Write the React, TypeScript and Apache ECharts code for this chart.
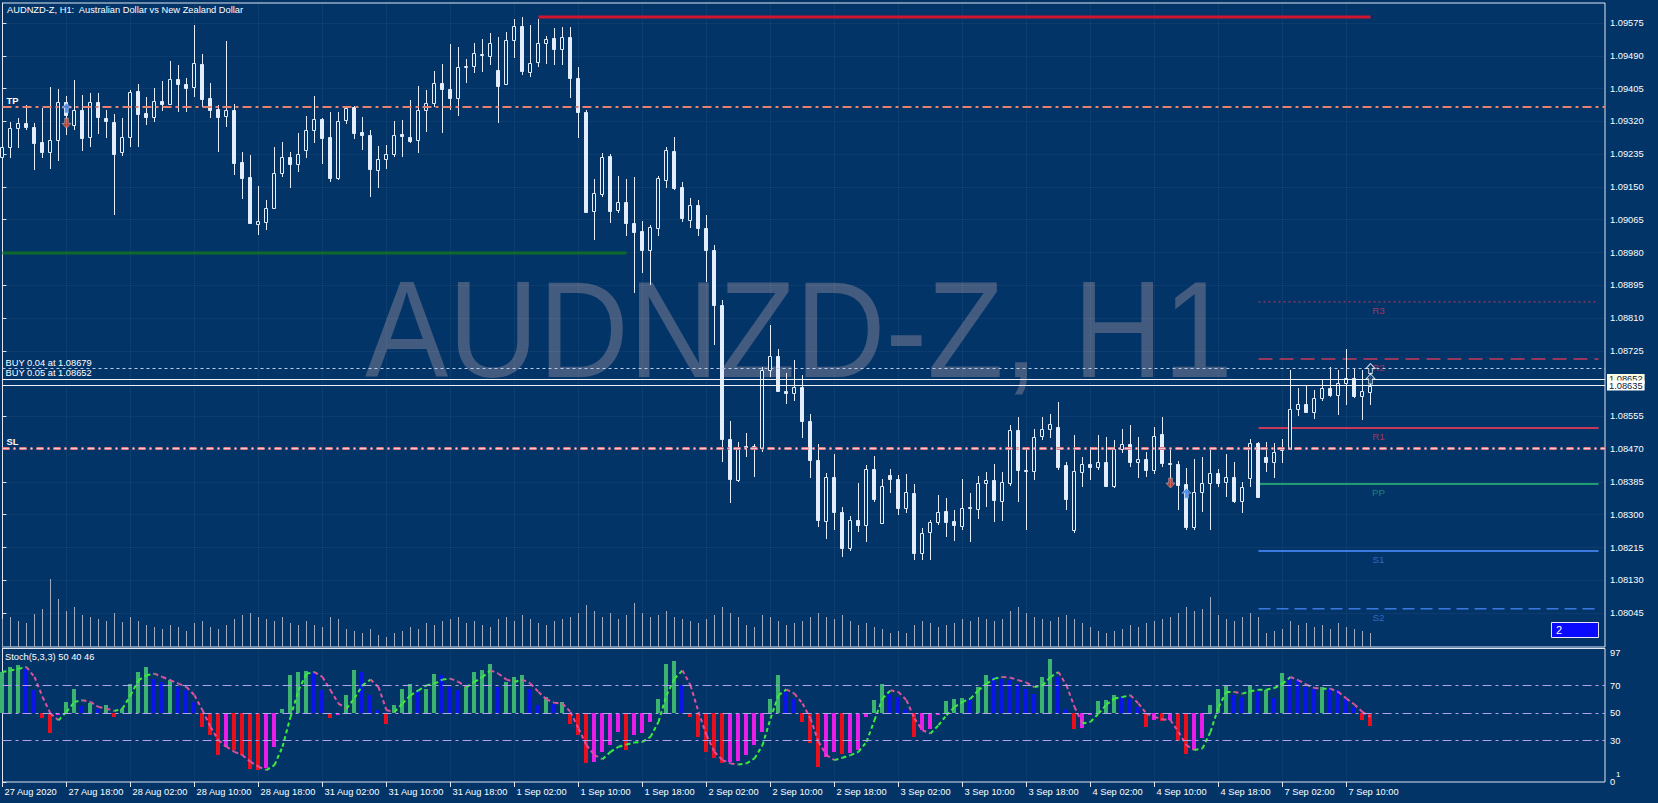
import { useEffect, useRef } from 'react';
import * as echarts from 'echarts';

// ---------- DATA ----------
const timeLabels = [
  '27 Aug 2020', '27 Aug 18:00', '28 Aug 02:00', '28 Aug 10:00', '28 Aug 18:00', '31 Aug 02:00',
  '31 Aug 10:00', '31 Aug 18:00', '1 Sep 02:00', '1 Sep 10:00', '1 Sep 18:00', '2 Sep 02:00',
  '2 Sep 10:00', '2 Sep 18:00', '3 Sep 02:00', '3 Sep 10:00', '3 Sep 18:00', '4 Sep 02:00',
  '4 Sep 10:00', '4 Sep 18:00', '7 Sep 02:00', '7 Sep 10:00',
];

const priceTicks = [
  1.08045, 1.0813, 1.08215, 1.083, 1.08385, 1.0847, 1.08555, 1.08725, 1.0881, 1.08895,
  1.0898, 1.09065, 1.0915, 1.09235, 1.0932, 1.09405, 1.0949, 1.09575,
];

const stochTicks = [0, 30, 50, 70, 97];
const stochLevels = [70, 50, 30];

// [open, high, low, close] for each H1 bar
const ohlc: number[][] = [
  [1.09228, 1.09259, 1.09225, 1.09254], [1.09254, 1.09318, 1.09224, 1.09302], [1.09302, 1.09328, 1.0925, 1.09315],
  [1.09315, 1.09362, 1.09298, 1.09305], [1.09305, 1.09315, 1.09194, 1.09265], [1.09266, 1.09354, 1.09224, 1.09241],
  [1.0924, 1.0941, 1.09197, 1.09271], [1.09271, 1.09404, 1.09218, 1.09369], [1.09369, 1.09386, 1.09285, 1.09336],
  [1.09311, 1.09427, 1.09298, 1.09349], [1.0935, 1.09388, 1.09243, 1.09276], [1.09279, 1.09393, 1.09254, 1.0937],
  [1.0937, 1.09393, 1.09287, 1.09331], [1.09328, 1.0935, 1.09278, 1.09322], [1.09318, 1.09339, 1.09077, 1.09235],
  [1.0924, 1.09328, 1.09231, 1.09279], [1.09279, 1.09401, 1.09254, 1.09395], [1.09399, 1.09417, 1.09254, 1.0934],
  [1.09341, 1.09384, 1.09311, 1.09331], [1.09331, 1.09406, 1.09319, 1.09373], [1.09373, 1.09425, 1.09348, 1.09366],
  [1.09366, 1.09477, 1.09363, 1.09429], [1.09429, 1.09466, 1.09345, 1.09416], [1.09417, 1.09433, 1.09345, 1.09407],
  [1.09408, 1.0957, 1.09384, 1.09471], [1.09469, 1.09496, 1.09358, 1.09378], [1.0938, 1.09419, 1.09328, 1.0935],
  [1.09351, 1.09362, 1.09241, 1.09331], [1.09334, 1.09529, 1.09305, 1.09349], [1.09349, 1.09364, 1.09181, 1.09213],
  [1.09215, 1.09241, 1.09119, 1.09174], [1.09175, 1.09233, 1.09053, 1.09056], [1.09053, 1.09153, 1.09025, 1.09061],
  [1.0906, 1.09115, 1.09038, 1.09095], [1.09095, 1.09254, 1.09092, 1.09185], [1.09185, 1.09267, 1.09177, 1.09227],
  [1.09227, 1.09241, 1.09146, 1.09209], [1.09209, 1.09291, 1.0919, 1.09235], [1.09246, 1.09334, 1.09226, 1.09297],
  [1.09297, 1.09386, 1.09263, 1.09325], [1.09325, 1.09329, 1.09209, 1.09276], [1.09279, 1.09345, 1.09164, 1.09173],
  [1.09173, 1.09345, 1.09168, 1.09321], [1.09324, 1.0936, 1.09313, 1.09355], [1.09357, 1.0936, 1.09274, 1.0929],
  [1.09292, 1.09331, 1.09246, 1.09285], [1.09285, 1.09298, 1.09124, 1.09197], [1.09194, 1.09256, 1.09147, 1.09223],
  [1.09223, 1.09259, 1.09197, 1.09235], [1.09235, 1.09321, 1.09228, 1.09285], [1.09287, 1.09324, 1.09228, 1.09282],
  [1.0928, 1.09376, 1.09264, 1.09269], [1.09272, 1.09412, 1.09238, 1.0935], [1.0935, 1.09401, 1.09292, 1.09368],
  [1.09368, 1.09451, 1.09357, 1.09419], [1.09419, 1.09469, 1.0929, 1.09404], [1.09404, 1.09521, 1.0935, 1.09381],
  [1.09381, 1.09513, 1.09334, 1.09461], [1.09461, 1.09482, 1.09419, 1.09464], [1.09464, 1.09523, 1.09445, 1.09497],
  [1.09492, 1.09534, 1.09448, 1.09495], [1.0949, 1.09549, 1.09466, 1.09523], [1.09453, 1.09539, 1.09316, 1.09412],
  [1.09417, 1.09552, 1.09414, 1.09531], [1.09531, 1.09586, 1.09484, 1.09567], [1.09567, 1.09591, 1.0944, 1.09451],
  [1.09448, 1.0957, 1.09435, 1.09471], [1.09474, 1.09586, 1.09461, 1.09523], [1.09523, 1.09541, 1.09469, 1.09534],
  [1.09536, 1.09562, 1.09466, 1.09508], [1.09508, 1.09565, 1.09466, 1.09539], [1.09539, 1.09565, 1.09381, 1.09432],
  [1.09432, 1.09461, 1.09277, 1.09344], [1.09344, 1.0935, 1.09082, 1.09085], [1.09088, 1.09171, 1.09012, 1.09134],
  [1.09131, 1.09238, 1.09124, 1.09228], [1.0923, 1.09235, 1.09056, 1.09088], [1.0909, 1.09178, 1.09082, 1.09111],
  [1.09111, 1.09171, 1.09023, 1.09057], [1.09057, 1.09176, 1.08875, 1.09033], [1.09036, 1.09062, 1.08927, 1.08987],
  [1.08987, 1.09051, 1.08896, 1.09046], [1.09043, 1.09178, 1.09023, 1.09173], [1.09168, 1.09254, 1.09147, 1.09246],
  [1.09243, 1.0928, 1.09142, 1.09147], [1.0915, 1.09163, 1.09059, 1.09069], [1.09064, 1.09121, 1.09043, 1.09103],
  [1.09103, 1.09116, 1.09023, 1.09044], [1.09044, 1.09077, 1.08904, 1.08987], [1.08987, 1.08999, 1.0874, 1.08844],
  [1.08844, 1.08857, 1.08437, 1.08496], [1.08496, 1.08543, 1.0833, 1.08393], [1.0839, 1.08489, 1.08385, 1.08476],
  [1.08476, 1.08512, 1.0845, 1.08478], [1.08478, 1.08483, 1.08398, 1.08476], [1.08473, 1.08683, 1.08463, 1.08675],
  [1.08675, 1.08792, 1.08657, 1.08712], [1.08712, 1.0873, 1.08618, 1.08621], [1.08621, 1.08668, 1.08587, 1.08616],
  [1.08616, 1.08701, 1.08595, 1.08631], [1.08631, 1.08662, 1.08499, 1.08543], [1.08543, 1.08561, 1.08395, 1.08442],
  [1.08442, 1.08483, 1.08268, 1.08286], [1.08284, 1.08408, 1.08237, 1.08398], [1.08398, 1.08457, 1.0826, 1.08307],
  [1.08307, 1.0832, 1.0819, 1.08214], [1.08214, 1.08297, 1.08206, 1.08286], [1.08286, 1.08382, 1.08255, 1.08273],
  [1.08273, 1.08429, 1.08229, 1.08419], [1.08419, 1.08452, 1.08333, 1.08341], [1.08278, 1.08393, 1.08276, 1.08375],
  [1.08403, 1.08419, 1.08356, 1.08393], [1.08393, 1.08403, 1.08299, 1.08317], [1.08317, 1.08406, 1.08304, 1.08359],
  [1.08356, 1.0838, 1.08183, 1.08201], [1.08201, 1.08266, 1.08183, 1.08253], [1.08255, 1.08286, 1.08183, 1.08281],
  [1.08281, 1.08351, 1.08273, 1.08307], [1.0831, 1.08343, 1.08242, 1.08281], [1.08284, 1.08312, 1.08232, 1.08273],
  [1.08271, 1.08393, 1.0826, 1.08317], [1.08317, 1.08356, 1.08229, 1.0832], [1.08315, 1.084, 1.08289, 1.08382],
  [1.08382, 1.08411, 1.0832, 1.0839], [1.0839, 1.08432, 1.08281, 1.08338], [1.08336, 1.08411, 1.08284, 1.08385],
  [1.08382, 1.08533, 1.08375, 1.0852], [1.0852, 1.08553, 1.08333, 1.08416], [1.08416, 1.08473, 1.0826, 1.08413],
  [1.08413, 1.08522, 1.0839, 1.08502], [1.08504, 1.08553, 1.08494, 1.08522], [1.08522, 1.08561, 1.08499, 1.08535],
  [1.08527, 1.08592, 1.08416, 1.08424], [1.08429, 1.08437, 1.08312, 1.08341], [1.0826, 1.08507, 1.08253, 1.08413],
  [1.08411, 1.0845, 1.08372, 1.08432], [1.08432, 1.08476, 1.0839, 1.08424], [1.08424, 1.08507, 1.08416, 1.08437],
  [1.08437, 1.08502, 1.08372, 1.08375], [1.08375, 1.08494, 1.08369, 1.0847], [1.0847, 1.08522, 1.0846, 1.08483],
  [1.08483, 1.08533, 1.08424, 1.08437], [1.08437, 1.08502, 1.08395, 1.08445], [1.08445, 1.08463, 1.08398, 1.08416],
  [1.08416, 1.08527, 1.08406, 1.08504], [1.08509, 1.08553, 1.08424, 1.08434], [1.08434, 1.08468, 1.08372, 1.08432],
  [1.08432, 1.08439, 1.08312, 1.08377], [1.0838, 1.08421, 1.0826, 1.08268], [1.08268, 1.08445, 1.0826, 1.08359],
  [1.08359, 1.0845, 1.08307, 1.08382], [1.08382, 1.08468, 1.0826, 1.08408], [1.08408, 1.08419, 1.08372, 1.08382],
  [1.08385, 1.08458, 1.08346, 1.08398], [1.08398, 1.08437, 1.0833, 1.08336], [1.08336, 1.08385, 1.08304, 1.08372],
  [1.08395, 1.08496, 1.08372, 1.08486], [1.08486, 1.08489, 1.08343, 1.08346], [1.0845, 1.08489, 1.08411, 1.08437],
  [1.08437, 1.08486, 1.08395, 1.08463], [1.08468, 1.08496, 1.08434, 1.08473], [1.0847, 1.08675, 1.08468, 1.08574],
  [1.08574, 1.08629, 1.08556, 1.08587], [1.08587, 1.08636, 1.08564, 1.08566], [1.08566, 1.08624, 1.08548, 1.08603],
  [1.08603, 1.08649, 1.08595, 1.08629], [1.08629, 1.08683, 1.08605, 1.08611], [1.08611, 1.08675, 1.08558, 1.08642],
  [1.08642, 1.0873, 1.08585, 1.08655], [1.08655, 1.08678, 1.08603, 1.08608], [1.08608, 1.08675, 1.08546, 1.08621],
  [1.08618, 1.0867, 1.08585, 1.08635],
];

const volumes = [
  448, 480, 416, 384, 528, 608, 1088, 768, 576, 640, 512, 480, 448, 416, 544, 400, 480, 416, 352, 320,
  288, 352, 320, 256, 384, 416, 320, 288, 352, 448, 512, 544, 480, 448, 416, 480, 384, 352, 416, 352,
  320, 480, 448, 288, 256, 224, 288, 192, 160, 224, 256, 320, 288, 384, 352, 416, 448, 480, 384, 416,
  352, 320, 448, 480, 416, 512, 448, 384, 352, 416, 448, 480, 544, 672, 576, 480, 544, 448, 512, 704,
  544, 480, 512, 576, 480, 448, 416, 384, 448, 512, 640, 544, 480, 352, 320, 512, 480, 416, 352, 384,
  416, 480, 544, 480, 448, 512, 416, 352, 384, 320, 288, 224, 256, 224, 352, 416, 384, 320, 352, 384,
  448, 416, 480, 448, 416, 448, 576, 640, 544, 480, 448, 416, 480, 512, 448, 384, 320, 256, 224, 256,
  288, 352, 320, 384, 416, 448, 480, 544, 640, 576, 608, 800, 512, 448, 416, 480, 544, 480, 224, 256,
  288, 416, 352, 384, 320, 352, 288, 384, 320, 288, 256, 224,
];

const stochMain = [
  80, 83.5, 84.7, 82.3, 66.6, 46.8, 35.7, 49, 58.2, 67.8, 55, 57.4, 53, 55.8, 47.3, 53, 71.5, 79.9, 83.5, 75.1,
  72.7, 73.9, 69, 66.6, 58.2, 40, 34, 19.5, 25.6, 23.2, 19.5, 9.5, 8.7, 9.9, 25.6, 53.4, 77.5, 79.9, 80.5, 79.5,
  66.6, 46.8, 49, 63, 81.6, 79.9, 63, 52.1, 42.5, 55.8, 67.8, 71.5, 66.6, 67.8, 78.7, 78, 69, 66.6, 69, 79.9,
  81.1, 85.4, 69, 72.7, 76.3, 77.5, 67.8, 55.8, 61.5, 57, 58.2, 42.5, 34, 13.5, 14.7, 21.9, 26.7, 36.4, 23.2, 34.5,
  35.5, 43.7, 60.6, 85.9, 87.6, 70.2, 47.3, 32.8, 21.9, 17.1, 14, 14.5, 15.5, 19.5, 26.7, 36.4, 60.6, 78, 65.4, 60.6,
  43.7, 28, 11.1, 18.3, 21.5, 20, 21, 23.2, 47, 59.4, 71.4, 64.2, 61.8, 53.3, 33, 37.6, 38.5, 49, 58.7, 60.6,
  61.1, 59.4, 69, 78, 76, 75, 74, 71.4, 67.8, 64.2, 76.3, 89.1, 76.3, 53.3, 38.8, 39.3, 49, 58.7, 59.4, 63.5,
  62, 60.6, 54.5, 40, 45, 44, 45, 29.7, 20, 23.2, 32.1, 55.7, 67.3, 70.7, 63.5, 61.8, 70.7, 65.4, 66.6, 61.1,
  79.4, 76.3, 73.9, 69, 67.8, 69, 68, 66.6, 60.6, 54.5, 44.9, 40.8,
];

const stochSignal = [
  79.9, 81, 82.3, 83.5, 76.3, 61.8, 49.7, 44.9, 50.9, 58.2, 59.4, 58.2, 54.5, 53.3, 51.6, 53.3, 63, 73.9, 77.5, 78.7,
  76.3, 73.9, 71.5, 69, 63, 52.1, 40, 30.4, 25.6, 21.9, 19.5, 14.7, 11.1, 8.7, 12.3, 25.6, 47.3, 66.6, 78.7, 79.9,
  76.3, 66.6, 57, 53.3, 61, 70.2, 74.4, 69, 52.1, 50.9, 57, 63, 66.6, 70.2, 71.5, 74.4, 75.1, 72.7, 69, 72.7,
  76.3, 81.1, 78.7, 74.4, 72.7, 74.4, 71.5, 65.4, 60, 57.5, 57, 50.9, 38.8, 26.7, 19.5, 16.6, 21.9, 25.6, 27.2, 28.7,
  29.2, 32.8, 43.7, 63, 75.1, 81.1, 70.2, 51, 34, 21.9, 15.9, 13.5, 12.8, 13.5, 17.1, 26.7, 46.1, 63, 67.3, 64.2,
  57, 46.1, 29.2, 19.5, 15.9, 17.6, 19.5, 21.9, 29.2, 44.9, 60.6, 66.6, 65.4, 59.4, 46.1, 37.6, 35.2, 41.3, 48.5, 54.5,
  58.2, 60.6, 66.6, 71.4, 75.1, 76.3, 75.8, 73.9, 72.2, 69, 70.2, 76.3, 79.9, 70.2, 54.5, 42.5, 43.7, 49.7, 56.3, 60.6,
  61.8, 63, 57, 49.7, 47.3, 45.6, 44.9, 36.4, 26.7, 23.2, 24.4, 36.4, 54.5, 65.4, 65.4, 64.2, 65.9, 67.1, 67.1, 68.3,
  71.4, 76.3, 73.9, 70.7, 68.3, 67.8, 67.8, 65.4, 60.6, 56.3, 50.9, 47.3,
];

const highLine = [[67, 1.09591], [171, 1.09591]];
const lowLine = [[0, 1.08979], [78, 1.08979]];
const tpPrice = 1.09357;
const slPrice = 1.08473;
const orderLots = [0.04, 0.05];
const orderPrices = [1.08679, 1.08652];
const bidPrice = 1.08635;
const pivotNames = ['R3', 'R2', 'R1', 'PP', 'S1', 'S2'];
const pivotPrices = [1.08852, 1.08704, 1.08525, 1.0838, 1.08206, 1.08056];
const pivotSpan = [157, 199.5];
const pivotLabelAt = 172;
const buyArrows = [[8, 1.09355], [148, 1.08356]];
const closeArrows = [[8, 1.09315], [146, 1.08382]];
const openArrows = [[171, 1.08679], [171, 1.08652]];

// ---------- STYLE ----------
const BG = '#023468';
const FRAME = '#dfe6f0';
const GRIDC = 'rgba(255,255,255,0.09)';
const CANDLE = '#e3edfb';
const FONT = 'Liberation Sans';
const FS = 9.3;
const XMAX = 200.3125;
const UP = 'path://M5,0 L10,5 L7,5 L7,10 L3,10 L3,5 L0,5 Z';
const DOWN = 'path://M3,0 L7,0 L7,5 L10,5 L5,10 L0,5 L3,5 Z';

export default function App() {
  const ref = useRef<HTMLDivElement>(null);
  useEffect(() => {
    if (!ref.current) return;
    const chart = echarts.init(ref.current, null, { renderer: 'svg' });
    const labelIdx = timeLabels.map((_, k) => k * 8);
    const candleData = ohlc.map((d, i) => [i, d[0], d[1], d[2], d[3]]);
    const volData = volumes.map((v, i) => [i, v]);
    const histData = stochMain.map((v, i) => [i, v, i > 0 ? stochMain[i - 1] : v]);
    const sigData = stochSignal.slice(0, -1).map((v, i) => [i, v, stochSignal[i + 1]]);
    const pivotColors = ['#c8385a', '#c8385a', '#c8385a', '#1f9c72', '#3a7ae0', '#3a7ae0'];
    const pivotStyles: any[] = [
      { width: 1, type: [2, 3] },
      { width: 1.5, type: [14, 7] },
      { width: 2, type: 'solid' },
      { width: 2, type: 'solid' },
      { width: 2, type: 'solid' },
      { width: 1.5, type: [12, 6] },
    ];

    const axisText = { color: '#ffffff', fontFamily: FONT, fontSize: FS };

    const option: any = {
      animation: false,
      backgroundColor: BG,
      textStyle: { fontFamily: FONT },
      grid: [
        { left: 2.5, top: 3, width: 1602.5, height: 644, show: true, borderColor: FRAME, borderWidth: 1, backgroundColor: 'transparent' },
        { left: 2.5, top: 648.5, width: 1602.5, height: 133.5, show: true, borderColor: FRAME, borderWidth: 1, backgroundColor: 'transparent' },
      ],
      xAxis: [
        {
          gridIndex: 0, type: 'value', min: 0, max: XMAX,
          axisLine: { show: false },
          axisTick: { show: false, customValues: labelIdx },
          axisLabel: { show: false, customValues: labelIdx },
          splitLine: { show: true, lineStyle: { color: GRIDC, type: 'dotted' } },
        },
        {
          gridIndex: 1, type: 'value', min: 0, max: XMAX, position: 'bottom',
          axisLine: { show: false },
          axisTick: { show: true, length: 5, customValues: labelIdx, lineStyle: { color: FRAME } },
          axisLabel: {
            ...axisText, customValues: labelIdx, align: 'left', margin: 5, padding: [0, 0, 0, 2],
            formatter: (v: number) => timeLabels[Math.round(v / 8)] ?? '',
          },
          splitLine: { show: true, lineStyle: { color: GRIDC, type: 'dotted' } },
        },
      ],
      yAxis: [
        {
          gridIndex: 0, type: 'value', min: 1.07957, max: 1.09627, position: 'right',
          axisLine: { show: true, lineStyle: { color: FRAME } },
          axisTick: { show: true, inside: false, length: 4, customValues: priceTicks, lineStyle: { color: FRAME } },
          axisLabel: { ...axisText, customValues: priceTicks, margin: 5, formatter: (v: number) => v.toFixed(5) },
          splitLine: { show: true, lineStyle: { color: GRIDC, type: 'dotted' } },
        },
        { gridIndex: 0, type: 'value', min: 0, max: 10304, show: false },
        {
          gridIndex: 1, type: 'value', min: 0, max: 97, position: 'right',
          axisLine: { show: true, lineStyle: { color: FRAME } },
          axisTick: { show: true, inside: false, length: 4, customValues: stochTicks, lineStyle: { color: FRAME } },
          axisLabel: { ...axisText, customValues: stochTicks, margin: 5, verticalAlignMaxLabel: 'top' },
          splitLine: { show: false },
        },
      ],
      series: [
        // volumes
        {
          type: 'custom', xAxisIndex: 0, yAxisIndex: 1, z: 1, silent: true,
          data: volData, encode: { x: 0, y: 1 },
          renderItem: (_p: any, api: any) => {
            const i = api.value(0);
            const p0 = api.coord([i, 0]);
            const p1 = api.coord([i, api.value(1)]);
            const x = Math.floor(p0[0]) + 0.5;
            return { type: 'line', shape: { x1: x, y1: p0[1], x2: x, y2: p1[1] }, style: { stroke: '#9eabc0', lineWidth: 1 } };
          },
        },
        // level lines (TP, SL, orders, bid)
        {
          type: 'line', xAxisIndex: 0, yAxisIndex: 0, data: [], z: 2, silent: true,
          markLine: {
            silent: true, symbol: ['none', 'none'], animation: false, precision: 5,
            label: { show: false },
            data: [
              {
                yAxis: tpPrice, lineStyle: { color: '#e8806e', width: 2, type: [9, 4, 3, 4] },
                label: { show: true, position: 'insideStartTop', formatter: 'TP', color: '#ffffff', fontSize: FS, fontWeight: 'bold', distance: [4, 2] },
              },
              {
                yAxis: slPrice, lineStyle: { color: '#e27a80', width: 3, type: [7, 4, 2, 4] },
                label: { show: true, position: 'insideStartTop', formatter: 'SL', color: '#ffffff', fontSize: FS, fontWeight: 'bold', distance: [4, 2] },
              },
              { yAxis: slPrice, lineStyle: { color: '#f0c8d0', width: 1, type: [7, 4, 2, 4] }, label: { show: false } },
              {
                yAxis: orderPrices[0], lineStyle: { color: '#b9cde8', width: 1, type: [3, 3] },
                label: { show: true, position: 'insideStartTop', formatter: `BUY ${orderLots[0].toFixed(2)} at ${orderPrices[0].toFixed(5)}`, color: '#ffffff', fontSize: FS, distance: [3, 1] },
              },
              {
                yAxis: orderPrices[1], lineStyle: { color: '#f0f4fa', width: 1, type: 'solid' },
                label: { show: true, position: 'insideStartTop', formatter: `BUY ${orderLots[1].toFixed(2)} at ${orderPrices[1].toFixed(5)}`, color: '#ffffff', fontSize: FS, distance: [3, 1] },
              },
              {
                yAxis: orderPrices[1], lineStyle: { color: 'transparent', width: 0 },
                label: { show: true, position: 'end', formatter: orderPrices[1].toFixed(5), color: '#0a1a40', backgroundColor: '#fffbe2', padding: [1, 2, 0, 2], fontSize: FS, distance: 2 },
              },
              {
                yAxis: bidPrice, lineStyle: { color: '#eef2f8', width: 1, type: 'solid' },
                label: { show: true, position: 'end', formatter: bidPrice.toFixed(5), color: '#0a1a40', backgroundColor: '#ffffff', padding: [1, 2, 0, 2], fontSize: FS, distance: 2 },
              },
            ],
          },
        },
        // red resistance line & green support line
        {
          type: 'line', xAxisIndex: 0, yAxisIndex: 0, data: highLine, symbol: 'none', z: 2, silent: true,
          lineStyle: { color: '#d3142e', width: 3 },
        },
        {
          type: 'line', xAxisIndex: 0, yAxisIndex: 0, data: lowLine, symbol: 'none', z: 2, silent: true,
          lineStyle: { color: '#0d6a28', width: 3 },
        },
        // pivots
        ...pivotPrices.map((p, k) => ({
          type: 'line', xAxisIndex: 0, yAxisIndex: 0, symbol: 'none', z: 2, silent: true,
          data: [[pivotSpan[0], p], [pivotSpan[1], p]],
          lineStyle: { color: pivotColors[k], ...pivotStyles[k] },
        })),
        {
          type: 'scatter', xAxisIndex: 0, yAxisIndex: 0, z: 3, silent: true, symbolSize: 1,
          itemStyle: { color: 'transparent' },
          data: pivotNames.map((n, k) => ({
            value: [pivotLabelAt, pivotPrices[k]],
            label: { show: true, formatter: n, color: pivotColors[k], position: 'bottom', distance: 3, fontSize: FS + 0.5, fontFamily: FONT },
          })),
        },
        // candles
        {
          type: 'custom', xAxisIndex: 0, yAxisIndex: 0, z: 4, silent: true,
          data: candleData, encode: { x: 0, y: [1, 2, 3, 4] },
          renderItem: (_p: any, api: any) => {
            const i = api.value(0);
            const o = api.value(1), h = api.value(2), l = api.value(3), c = api.value(4);
            const pO = api.coord([i, o]);
            const pC = api.coord([i, c]);
            const pH = api.coord([i, h]);
            const pL = api.coord([i, l]);
            const xc = Math.floor(pO[0]);
            const top = Math.round(Math.min(pO[1], pC[1]));
            const bot = Math.round(Math.max(pO[1], pC[1]));
            const bull = c > o;
            return {
              type: 'group',
              children: [
                { type: 'line', shape: { x1: xc + 0.5, y1: Math.round(pH[1]), x2: xc + 0.5, y2: Math.round(pL[1]) }, style: { stroke: CANDLE, lineWidth: 1 } },
                {
                  type: 'rect',
                  shape: { x: xc - 1.5, y: top + 0.5, width: 3, height: Math.max(bot - top, 0) },
                  style: { fill: bull ? BG : CANDLE, stroke: CANDLE, lineWidth: 1 },
                },
              ],
            };
          },
        },
        // trade arrows
        {
          type: 'scatter', xAxisIndex: 0, yAxisIndex: 0, z: 6, silent: true, data: buyArrows,
          symbol: UP, symbolSize: [9, 10], itemStyle: { color: '#2f7fe6', borderColor: '#dce8ff', borderWidth: 0.6 },
        },
        {
          type: 'scatter', xAxisIndex: 0, yAxisIndex: 0, z: 6, silent: true, data: closeArrows,
          symbol: DOWN, symbolSize: [9, 10], itemStyle: { color: '#d8452e', borderColor: '#f3d0c8', borderWidth: 0.6 },
        },
        {
          type: 'scatter', xAxisIndex: 0, yAxisIndex: 0, z: 6, silent: true, data: openArrows,
          symbol: UP, symbolSize: [9, 10], itemStyle: { color: BG, borderColor: '#ffffff', borderWidth: 1 },
        },
        // stochastic levels
        {
          type: 'line', xAxisIndex: 1, yAxisIndex: 2, data: [], z: 2, silent: true,
          markLine: {
            silent: true, symbol: ['none', 'none'], animation: false, label: { show: false },
            lineStyle: { color: '#b2a2f2', width: 1, type: [9, 4, 3, 4] },
            data: stochLevels.map((v) => ({ yAxis: v })),
          },
        },
        // stochastic histogram
        {
          type: 'custom', xAxisIndex: 1, yAxisIndex: 2, z: 3, silent: true,
          data: histData, encode: { x: 0, y: 1 },
          renderItem: (_p: any, api: any) => {
            const i = api.value(0), v = api.value(1), prev = api.value(2);
            const b = api.coord([i, 50]);
            const t = api.coord([i, v]);
            const rising = v >= prev;
            const color = v >= 50 ? (rising ? '#3cb371' : '#0b14ea') : (rising ? '#e81ee8' : '#e8101c');
            const y0 = Math.round(Math.min(b[1], t[1]));
            const y1 = Math.round(Math.max(b[1], t[1]));
            return { type: 'rect', shape: { x: Math.floor(b[0]) - 2, y: y0, width: 4, height: Math.max(y1 - y0, 1) }, style: { fill: color } };
          },
        },
        // stochastic signal line
        {
          type: 'custom', xAxisIndex: 1, yAxisIndex: 2, z: 4, silent: true,
          data: sigData, encode: { x: 0, y: [1, 2] },
          renderItem: (_p: any, api: any) => {
            const i = api.value(0), a = api.value(1), b = api.value(2);
            const p0 = api.coord([i, a]);
            const p1 = api.coord([i + 1, b]);
            return {
              type: 'line', shape: { x1: p0[0], y1: p0[1], x2: p1[0], y2: p1[1] },
              style: { stroke: b >= a ? '#3cec3c' : '#e0509e', lineWidth: 2, lineDash: [4, 3] },
            };
          },
        },
      ],
      graphic: [
        {
          type: 'text', x: 365, y: 329, scaleX: 0.912, z: -10, silent: true,
          style: { text: 'AUDNZD-Z, H1', fontSize: 137, fontFamily: FONT, fill: '#435b7e', verticalAlign: 'middle', align: 'left' },
        },
        {
          type: 'text', x: 7, y: 10, z: 10, silent: true,
          style: { text: 'AUDNZD-Z, H1:  Australian Dollar vs New Zealand Dollar', fontSize: FS, fontFamily: FONT, fill: '#ffffff', verticalAlign: 'middle' },
        },
        {
          type: 'text', x: 5, y: 657, z: 10, silent: true,
          style: { text: 'Stoch(5,3,3) 50 40 46', fontSize: FS, fontFamily: FONT, fill: '#ffffff', verticalAlign: 'middle' },
        },
        {
          type: 'rect', z: 10, silent: true,
          shape: { x: 1551.5, y: 622.5, width: 47, height: 15 },
          style: { fill: '#0a0aff', stroke: '#e6e6ff', lineWidth: 1 },
        },
        {
          type: 'text', x: 1556, y: 630, z: 11, silent: true,
          style: { text: '2', fontSize: 11, fontFamily: FONT, fill: '#ffffff', verticalAlign: 'middle' },
        },
        {
          type: 'text', x: 1616, y: 774, z: 11, silent: true,
          style: { text: '1', fontSize: 8, fontFamily: FONT, fill: '#ffffff', verticalAlign: 'middle' },
        },
      ],
    };

    chart.setOption(option);
    return () => chart.dispose();
  }, []);

  return <div ref={ref} style={{ position: 'fixed', left: 0, top: 0, width: 1658, height: 803 }} />;
}
